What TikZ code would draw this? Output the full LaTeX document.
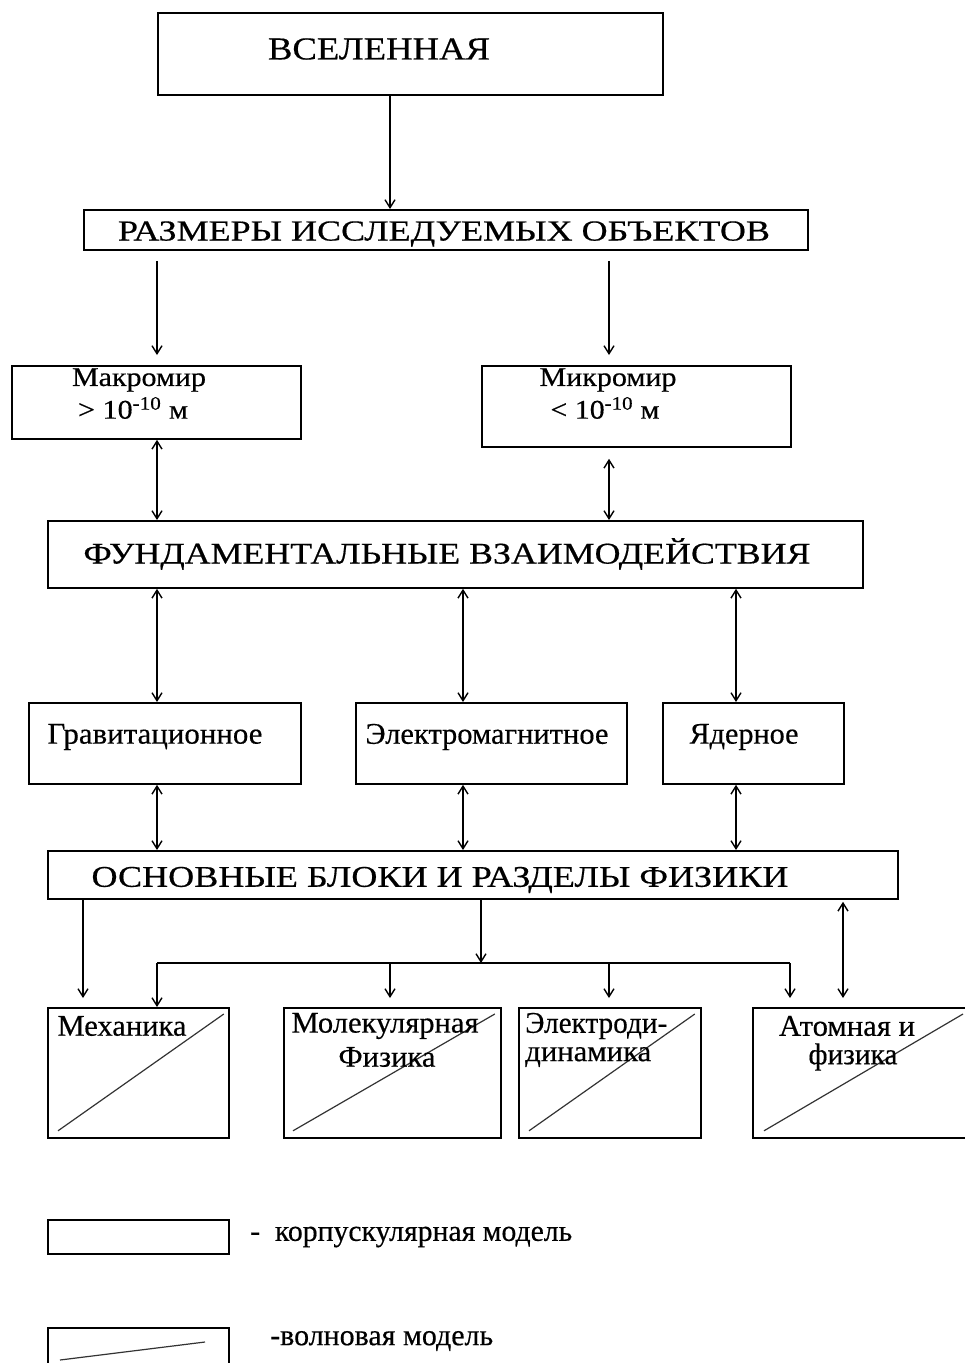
\documentclass[tikz,border=0pt]{standalone}
\usepackage{fontspec}
\setmainfont{Liberation Serif}[FakeBold=0.4]
\usepackage{graphicx}
\usetikzlibrary{arrows.meta}
\newcommand\fw[2]{\resizebox{#1pt}{\height}{#2}}
\tikzset{
  box/.style={draw, line width=1.8pt, inner sep=0pt, anchor=north west},
  txt/.style={inner sep=0pt, anchor=center},
  txtl/.style={inner sep=0pt, anchor=west},
  arr/.style={line width=1.4pt, -{Straight Barb[length=8pt,width=10pt,line width=1.4pt]}},
  darr/.style={line width=1.4pt, {Straight Barb[length=8pt,width=10pt,line width=1.4pt]}-{Straight Barb[length=8pt,width=10pt,line width=1.4pt]}},
  ln/.style={line width=1.4pt},
  diag/.style={line width=1.2pt, draw=black!80}
}
\begin{document}
\begin{tikzpicture}[x=1pt,y=-1pt]
\useasboundingbox (0,0) rectangle (965,1363);
\fill[white] (0,0) rectangle (965,1363);
% boxes
\node[box, minimum width=505pt, minimum height=82pt] (univ) at (157,12) {};
\node[box, minimum width=724pt, minimum height=40pt] (razm) at (83,209) {};
\node[box, minimum width=289pt, minimum height=73pt] (makro) at (11,365) {};
\node[box, minimum width=309pt, minimum height=81pt] (mikro) at (481,365) {};
\node[box, minimum width=815pt, minimum height=67pt] (fund) at (47,520) {};
\node[box, minimum width=272pt, minimum height=81pt] (grav) at (28,702) {};
\node[box, minimum width=271pt, minimum height=81pt] (elm) at (355,702) {};
\node[box, minimum width=181pt, minimum height=81pt] (yad) at (662,702) {};
\node[box, minimum width=850pt, minimum height=48pt] (osn) at (47,850) {};
\node[box, minimum width=181pt, minimum height=130pt] (mech) at (47,1007) {};
\node[box, minimum width=217pt, minimum height=130pt] (mol) at (283,1007) {};
\node[box, minimum width=182pt, minimum height=130pt] (eld) at (518,1007) {};
\node[box, minimum width=230pt, minimum height=130pt] (atom) at (752,1007) {};
\node[box, minimum width=181pt, minimum height=34pt] (leg1) at (47,1219) {};
\node[box, minimum width=181pt, minimum height=50pt] (leg2) at (47,1327) {};
% diagonals
\draw[diag] ([shift={(11pt,8pt)}]mech.south west) -- ([shift={(-6pt,-7pt)}]mech.north east);
\draw[diag] ([shift={(10pt,8pt)}]mol.south west) -- ([shift={(-7pt,-7pt)}]mol.north east);
\draw[diag] ([shift={(11pt,8pt)}]eld.south west) -- ([shift={(-7pt,-7pt)}]eld.north east);
\draw[diag] ([shift={(12pt,8pt)}]atom.south west) -- (963,1014);
\draw[diag] (60,1360) -- (205,1342);
% texts
\node[txt] (t1) at (379,49) {\fontsize{32}{36}\selectfont\fw{222}{ВСЕЛЕННАЯ}};
\node[txt] (t2) at (444,234) {\fontsize{29}{32}\selectfont\fw{652}{РАЗМЕРЫ ИССЛЕДУЕМЫХ ОБЪЕКТОВ}};
\node[txt] (t3) at (139,380) {\fontsize{27}{30}\selectfont\fw{134}{Макромир}};
\node[txt] (t4) at (133,408) {\fontsize{27}{30}\selectfont\fw{110}{> 10\textsuperscript{-10} м}};
\node[txt] (t5) at (608,380) {\fontsize{27}{30}\selectfont\fw{137}{Микромир}};
\node[txt] (t6) at (605,408) {\fontsize{27}{30}\selectfont\fw{109}{< 10\textsuperscript{-10} м}};
\node[txt] (t7) at (447,554) {\fontsize{30}{33}\selectfont\fw{727}{ФУНДАМЕНТАЛЬНЫЕ ВЗАИМОДЕЙСТВИЯ}};
\node[txt] (t8) at (155,737) {\fontsize{30}{33}\selectfont\fw{215}{Гравитационное}};
\node[txt] (t9) at (487,737) {\fontsize{30}{33}\selectfont\fw{243}{Электромагнитное}};
\node[txt] (t10) at (744,737) {\fontsize{30}{33}\selectfont\fw{109}{Ядерное}};
\node[txt] (t11) at (440,880) {\fontsize{30}{33}\selectfont\fw{697}{ОСНОВНЫЕ БЛОКИ И РАЗДЕЛЫ ФИЗИКИ}};
\node[txt] (t12) at (122,1026) {\fontsize{30}{33}\selectfont\fw{129}{Механика}};
\node[txt] (t13) at (385,1026) {\fontsize{30}{33}\selectfont\fw{187}{Молекулярная}};
\node[txt] (t14) at (387,1057) {\fontsize{30}{33}\selectfont\fw{97}{Физика}};
\node[txtl] (t15) at (525,1026) {\fontsize{30}{33}\selectfont\fw{142}{Электроди-}};
\node[txtl] (t16) at (525,1057) {\fontsize{30}{33}\selectfont\fw{126}{динамика}};
\node[txt] (t17) at (847,1026) {\fontsize{30}{33}\selectfont\fw{136}{Атомная и}};
\node[txt] (t18) at (853,1057) {\fontsize{30}{33}\selectfont\fw{89}{физика}};
\node[txtl] (t19) at (250,1237) {\fontsize{30}{33}\selectfont\fw{322}{-\ \ корпускулярная модель}};
\node[txtl] (t20) at (270,1341) {\fontsize{30}{33}\selectfont\fw{223}{-волновая модель}};
% connectors
\coordinate (xa) at (157,0);
\coordinate (xb) at (609,0);
\coordinate (xc) at (463,0);
\coordinate (xd) at (736,0);
\coordinate (xe) at (390,0);
\coordinate (xf) at (83,0);
\coordinate (xg) at (481,0);
\coordinate (xh) at (790,0);
\coordinate (xi) at (843,0);
\coordinate (junc) at (481,963);
\coordinate (jl) at (157,963);
\coordinate (jr) at (790,963);
\draw[arr] (univ.south -| xe) -- (razm.north -| xe);
\draw[arr] ([yshift=-10pt]razm.south -| xa) -- ([yshift=10pt]makro.north -| xa);
\draw[arr] ([yshift=-10pt]razm.south -| xb) -- ([yshift=10pt]mikro.north -| xb);
\draw[darr] (makro.south -| xa) -- (fund.north -| xa);
\draw[darr] ([yshift=-11pt]mikro.south -| xb) -- (fund.north -| xb);
\draw[darr] (fund.south -| xa) -- (grav.north -| xa);
\draw[darr] (fund.south -| xc) -- (elm.north -| xc);
\draw[darr] (fund.south -| xd) -- (yad.north -| xd);
\draw[darr] (grav.south -| xa) -- (osn.north -| xa);
\draw[darr] (elm.south -| xc) -- (osn.north -| xc);
\draw[darr] (yad.south -| xd) -- (osn.north -| xd);
\draw[arr] (osn.south -| xf) -- ([yshift=9pt]mech.north -| xf);
\draw[arr] (osn.south -| xg) -- (junc);
\draw[ln] (jl) -- (jr);
\draw[arr] (jl) -- (mech.north -| xa);
\draw[arr] (jl -| xe) -- ([yshift=9pt]mol.north -| xe);
\draw[arr] (jl -| xb) -- ([yshift=9pt]eld.north -| xb);
\draw[arr] (jr) -- ([yshift=9pt]atom.north -| xh);
\draw[darr] ([yshift=-2pt]osn.south -| xi) -- ([yshift=9pt]atom.north -| xi);
\end{tikzpicture}
\end{document}
